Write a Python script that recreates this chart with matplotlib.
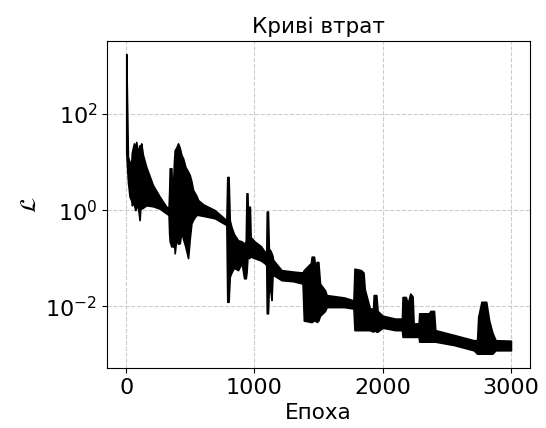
import numpy as np
import matplotlib
matplotlib.use('Agg')
from matplotlib import pyplot as plt

# огинаюча кривої втрат (зверху / знизу), log10 значень
epochs = [0, 13, 26, 39, 44, 52, 60, 70, 78, 90, 104, 110, 117, 130, 156, 208, 261,
          313, 330, 335, 339, 352, 358, 365, 372, 378, 390, 404, 417, 430, 443, 461,
          482, 495, 508, 521, 547, 560, 600, 690, 781, 788, 798, 807, 820, 840, 872,
          900, 919, 932, 938, 945, 951, 958, 964, 970, 1000, 1050, 1081, 1092, 1096,
          1105, 1112, 1125, 1133, 1140, 1146, 1211, 1300, 1375, 1385, 1440, 1446,
          1464, 1475, 1485, 1498, 1511, 1550, 1563, 1700, 1772, 1780, 1830, 1850,
          1860, 1900, 1925, 1930, 1950, 1960, 2000, 2098, 2150, 2155, 2180, 2195,
          2215, 2233, 2241, 2280, 2285, 2360, 2372, 2400, 2410, 2555, 2710, 2736,
          2745, 2770, 2807, 2830, 2855, 2880, 3000]
upper_log = [3.25, 1.11, 1.0, 1.0, 1.2, 1.3, 1.39, 1.3, 1.42, 1.2, 1.35, 1.3, 1.39,
             1.15, 0.9, 0.52, 0.28, 0.07, 0.05, 0.4, 0.87, 0.87, 0.3, 0.5, 1.0, 1.25,
             1.3, 1.39, 1.3, 1.15, 1.08, 0.9, 0.8, 0.73, 0.6, 0.42, 0.3, 0.21, 0.12,
             0.0, -0.21, 0.69, 0.69, -0.21, -0.35, -0.5, -0.63, -0.65, -0.7, -0.65,
             0.35, 0.35, -0.3, 0.07, 0.07, -0.56, -0.65, -0.75, -0.87, -0.9, -0.03,
             -0.03, -0.8, -0.85, -0.9, -0.95, -1.04, -1.25, -1.28, -1.3, -1.25, -1.1,
             -0.97, -0.97, -1.2, -1.08, -1.08, -1.53, -1.67, -1.77, -1.82, -1.88,
             -1.22, -1.25, -1.3, -1.65, -2.05, -2.05, -1.77, -1.77, -2.1, -2.2, -2.26,
             -2.26, -1.81, -1.81, -1.95, -1.74, -1.8, -2.36, -2.36, -2.15, -2.15,
             -2.1, -2.1, -2.5, -2.6, -2.71, -2.71, -2.22, -1.91, -1.91, -2.3, -2.55,
             -2.71, -2.72]
lower_log = [1.2, 0.6, 0.28, 0.2, 0.1, 0.15, 0.12, 0.0, 0.05, 0.1, -0.21, 0.05, 0.03,
             0.05, 0.1, 0.08, 0.03, -0.07, -0.1, -0.5, -0.65, -0.76, -0.6, -0.76,
             -0.65, -0.9, -0.6, -0.7, -0.69, -0.45, -0.6, -0.76, -1.0, -0.6, -0.28,
             -0.2, -0.1, -0.1, -0.12, -0.17, -0.31, -1.91, -1.91, -1.39, -1.3, -1.2,
             -1.25, -1.1, -1.42, -1.42, -1.3, -1.0, -0.95, -1.0, -0.97, -0.97, -1.0,
             -1.05, -1.11, -1.15, -2.15, -2.15, -1.6, -1.7, -1.87, -1.4, -1.35, -1.46,
             -1.48, -1.53, -2.3, -2.33, -2.33, -2.3, -2.3, -2.33, -2.3, -2.2, -2.1,
             -2.02, -2.02, -2.05, -2.5, -2.5, -2.5, -2.5, -2.5, -2.53, -2.5, -2.53,
             -2.53, -2.45, -2.5, -2.5, -2.64, -2.64, -2.64, -2.64, -2.64, -2.64,
             -2.64, -2.74, -2.74, -2.74, -2.74, -2.74, -2.81, -2.92, -2.99, -2.99,
             -2.99, -2.99, -2.99, -2.99, -2.92, -2.92]

xticks = [0, 1000, 2000, 3000]
yticks = [1e-2, 1e0, 1e2]

upper = 10.0 ** np.array(upper_log)
lower = 10.0 ** np.array(lower_log)

fig = plt.figure(figsize=(5.46, 4.28), dpi=100)
ax = fig.add_axes([0.196, 0.140, 0.775, 0.764])
ax.set_axisbelow(True)
ax.fill_between(epochs, lower, upper, facecolor='black', edgecolor='black',
                linewidth=1.2, zorder=3)
ax.set_yscale('log')
ax.set_xlim(-150, 3150)
ax.set_ylim(10 ** -3.29, 10 ** 3.52)
ax.set_xticks(xticks)
ax.set_yticks(yticks)
ax.minorticks_off()
ax.tick_params(labelsize=16)
ax.grid(True, linestyle='--', color='#cccccc', linewidth=0.8)
ax.set_title('Криві втрат', fontsize=15.5)
ax.set_xlabel('Епоха', fontsize=15.5)
ax.set_ylabel(r'$\mathcal{L}$', fontsize=16)
fig.savefig('out.png', dpi=100)
